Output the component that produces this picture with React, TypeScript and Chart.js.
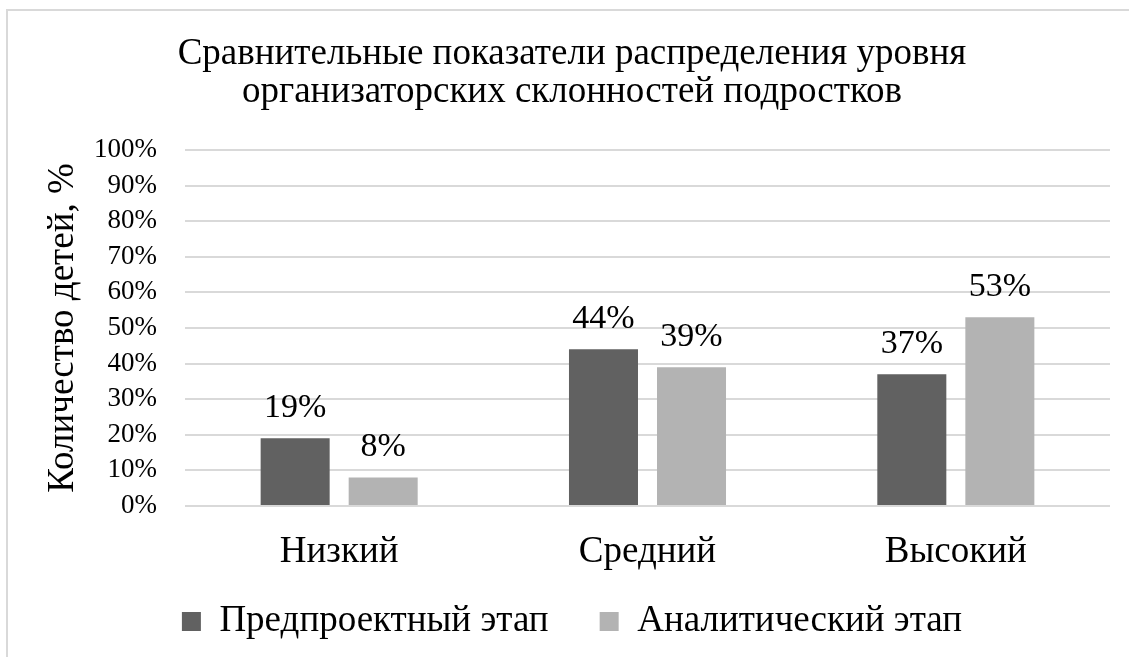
import React, { useEffect, useRef } from "react";
import Chart from "chart.js/auto";

const titleLines = [
  "Сравнительные показатели распределения уровня",
  "организаторских склонностей подростков",
];
const categories = ["Низкий", "Средний", "Высокий"];
const seriesNames = ["Предпроектный этап", "Аналитический этап"];
const preProject = [19, 44, 37];
const analytic = [8, 39, 53];
const yTicks = [0, 10, 20, 30, 40, 50, 60, 70, 80, 90, 100];
const yTitle = "Количество детей, %";

const FONT = "'Liberation Serif', 'Times New Roman', serif";

const valueLabels = {
  id: "valueLabels",
  afterLayout(chart: any) {
    // let the category labels extend below the (shortened) x-axis box
    if (chart.scales.x) chart.scales.x.bottom = chart.height;
  },
  afterDatasetsDraw(chart: any) {
    const ctx = chart.ctx;
    ctx.save();
    ctx.font = `34px ${FONT}`;
    ctx.fillStyle = "#000";
    ctx.textAlign = "center";
    ctx.textBaseline = "middle";
    chart.data.datasets.forEach((ds: any, i: number) => {
      const meta = chart.getDatasetMeta(i);
      meta.data.forEach((bar: any, j: number) => {
        ctx.fillText(`${ds.data[j]}%`, bar.x, bar.y - 30);
      });
    });
    ctx.restore();
  },
};

export default function App() {
  const ref = useRef<HTMLCanvasElement | null>(null);
  useEffect(() => {
    if (!ref.current) return;
    const chart = new Chart(ref.current, {
      type: "bar",
      data: {
        labels: categories,
        datasets: [
          {
            label: seriesNames[0],
            data: preProject,
            backgroundColor: "#616161",
            categoryPercentage: 0.571,
            barPercentage: 0.784,
          },
          {
            label: seriesNames[1],
            data: analytic,
            backgroundColor: "#b3b3b3",
            categoryPercentage: 0.571,
            barPercentage: 0.784,
          },
        ],
      },
      options: {
        responsive: false,
        animation: false,
        layout: { padding: { left: 26, right: 19, top: 0, bottom: 7 } },
        plugins: {
          title: {
            display: true,
            text: titleLines,
            color: "#000",
            font: { family: FONT, size: 37, weight: "normal", lineHeight: 1.04 },
            padding: { top: 24, bottom: 38 },
          },
          legend: {
            position: "bottom",
            labels: {
              color: "#000",
              font: { family: FONT, size: 37 },
              boxWidth: 19,
              boxHeight: 19,
              padding: 51,
            },
          },
          tooltip: { enabled: false },
        },
        scales: {
          x: {
            afterFit(scale: any) {
              scale.height = 46;
            },
            grid: { display: false, drawTicks: false },
            border: { display: false },
            ticks: {
              color: "#000",
              font: { family: FONT, size: 37, lineHeight: 1.0 },
              padding: 27.5,
            },
          },
          y: {
            min: 0,
            max: 100,
            afterFit(scale: any) {
              scale.width = 151;
            },
            afterBuildTicks(scale: any) {
              scale.ticks = yTicks.map((v) => ({ value: v }));
            },
            grid: { color: "#d9d9d9", lineWidth: 2, drawTicks: false },
            border: { display: false },
            ticks: {
              color: "#000",
              font: { family: FONT, size: 27 },
              padding: 28,
              autoSkip: false,
              callback: (v: any) => `${v}%`,
            },
            title: {
              display: true,
              text: yTitle,
              color: "#000",
              font: { family: FONT, size: 37, lineHeight: 1.0 },
              padding: { top: 10.5, bottom: 0 },
            },
          },
        },
      },
      plugins: [valueLabels],
    });
    return () => chart.destroy();
  }, []);

  return (
    <div
      style={{
        position: "fixed",
        left: 6,
        top: 9,
        width: 1140,
        height: 700,
        border: "2px solid #d9d9d9",
        background: "#fff",
      }}
    >
      <canvas ref={ref} width={1121} height={646} style={{ display: "block" }} />
    </div>
  );
}
